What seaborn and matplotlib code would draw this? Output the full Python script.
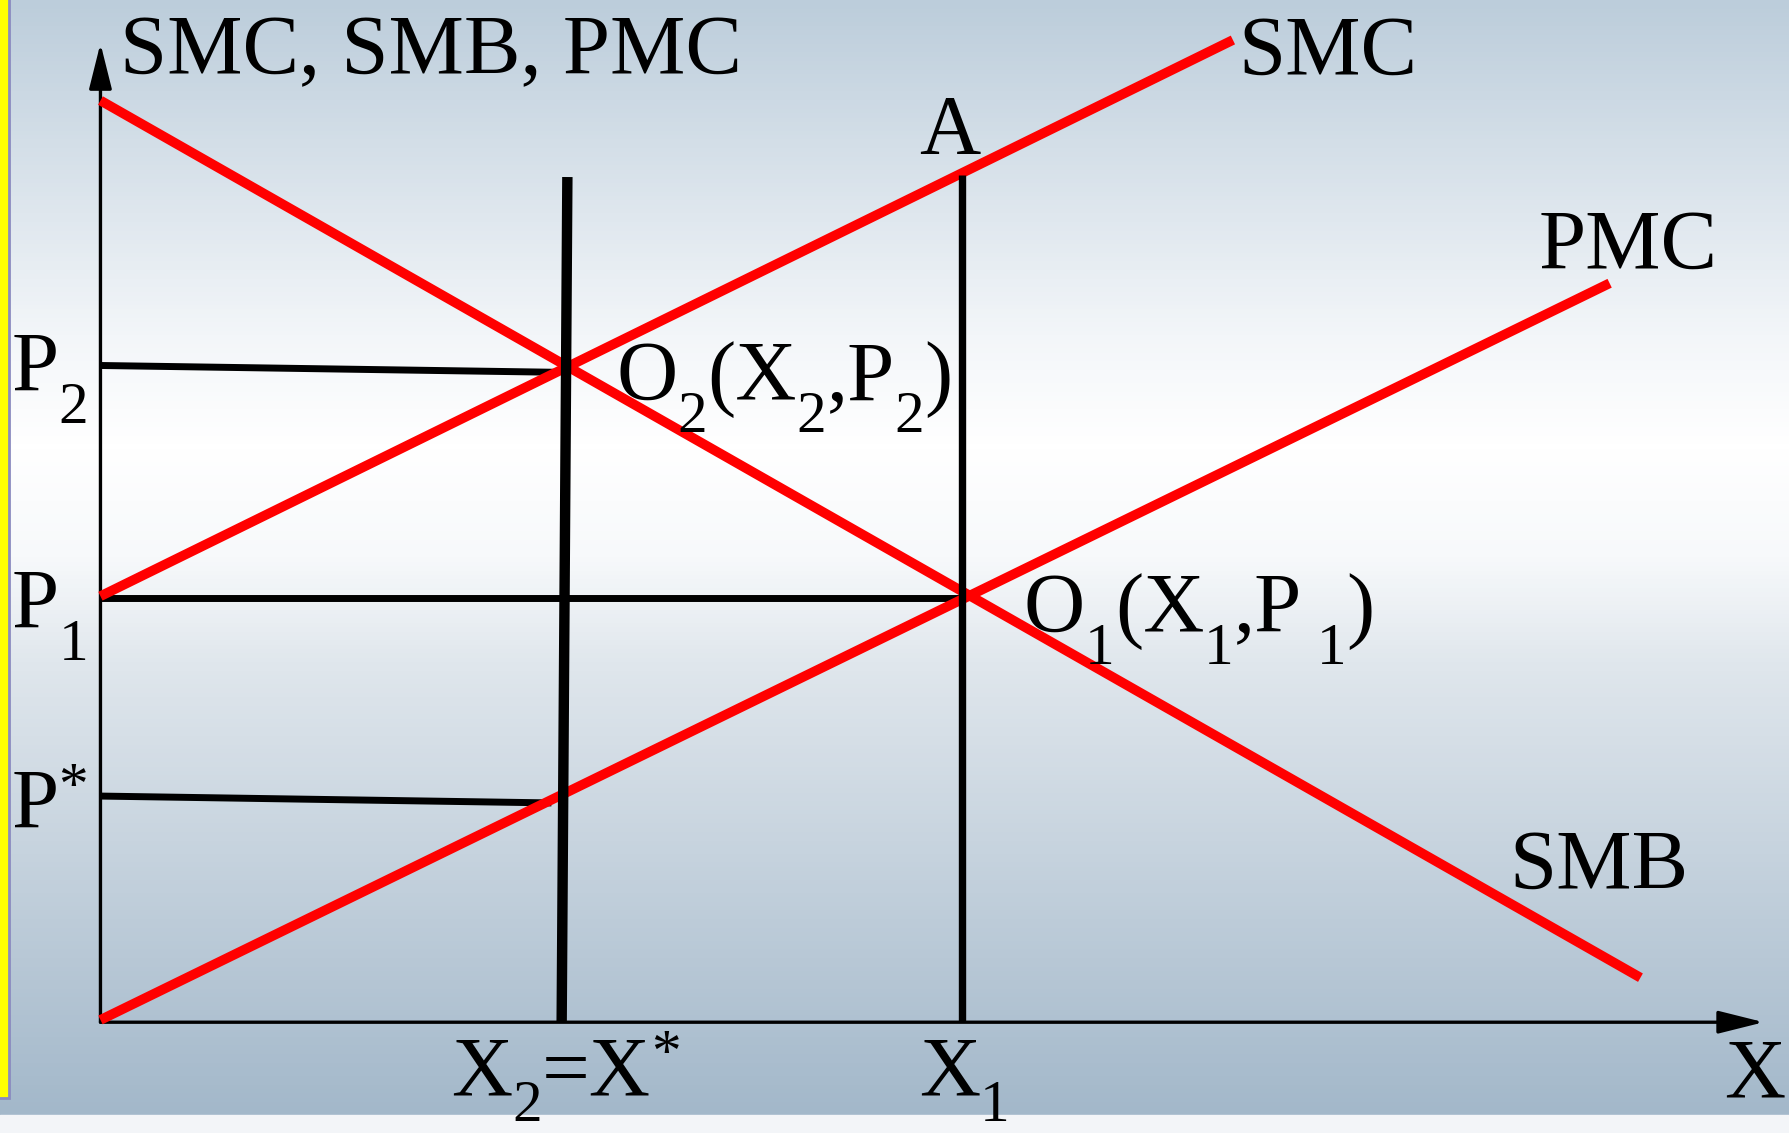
import numpy as np
import pandas as pd
import matplotlib
matplotlib.use("Agg")
import matplotlib.pyplot as plt
from matplotlib.patches import Rectangle
from matplotlib.colors import LinearSegmentedColormap
import seaborn as sns

# curve end points (quantity X, price P)
smc_x = [0.0, 9.92]
smc_y = [3.73, 8.60]
pmc_x = [0.0, 13.22]
pmc_y = [0.02, 6.47]
smb_x = [0.0, 13.49]
smb_y = [8.07, 0.39]

# black guide lines
x2_line_x = [4.09, 4.04]
x2_line_y = [7.40, 0.0]
x1_line_x = [7.55, 7.55]
x1_line_y = [7.42, 0.0]
p2_line_x = [0.0, 4.02]
p2_line_y = [5.75, 5.69]
p1_line_x = [0.0, 7.55]
p1_line_y = [3.71, 3.71]
pstar_line_x = [0.0, 3.95]
pstar_line_y = [1.98, 1.92]

# axis extents
x_axis_end = 14.57
y_axis_end = 8.57

SERIF = ["Liberation Serif", "DejaVu Serif"]
FS = 61

sns.set_style("white")
plt.rcParams["font.family"] = SERIF
plt.rcParams["text.color"] = "black"

fig = plt.figure(figsize=(17.9, 11.33), dpi=100)
ax = fig.add_axes([0, 0, 1, 1])
xmin, xmax, ymin, ymax = -0.88, 14.80, -0.97, 8.95
ax.set_xlim(xmin, xmax)
ax.set_ylim(ymin, ymax)
ax.axis("off")

# background gradient (blue-grey -> white -> blue-grey)
grad = LinearSegmentedColormap.from_list(
    "bg", [(0.0, "#bccddb"), (0.30, "#f3f6f9"), (0.40, "#ffffff"),
           (0.50, "#f7f9fb"), (0.60, "#dfe6ec"), (1.0, "#a3b8ca")])
ax.imshow(np.linspace(0, 1, 256).reshape(-1, 1), cmap=grad, aspect="auto",
          extent=(xmin, xmax, -0.81, ymax), zorder=0)
ax.add_patch(Rectangle((xmin, ymin), xmax - xmin, 0.16, color="#f3f5f8", zorder=0.5))
ax.add_patch(Rectangle((xmin - 0.05, -0.66), 0.13, ymax + 0.8, facecolor="#ffff00",
                       edgecolor="#8a8abf", lw=2, zorder=0.6))

# red curves
curves = pd.concat([
    pd.DataFrame({"x": smc_x, "y": smc_y, "curve": "SMC"}),
    pd.DataFrame({"x": pmc_x, "y": pmc_y, "curve": "PMC"}),
    pd.DataFrame({"x": smb_x, "y": smb_y, "curve": "SMB"}),
])
sns.lineplot(data=curves, x="x", y="y", units="curve", estimator=None, sort=False,
             color="#ff0000", linewidth=7, solid_capstyle="butt", ax=ax, zorder=3,
             legend=False)

# black guide lines: horizontals under the curves, verticals on top
for gx, gy, w, z in [(p2_line_x, p2_line_y, 5, 2), (p1_line_x, p1_line_y, 5, 2),
                     (pstar_line_x, pstar_line_y, 5, 2),
                     (x2_line_x, x2_line_y, 7.5, 4), (x1_line_x, x1_line_y, 5.3, 4)]:
    sns.lineplot(x=gx, y=gy, sort=False, estimator=None, color="black", linewidth=w,
                 solid_capstyle="butt", ax=ax, zorder=z)

# axes with arrows
arrow = dict(arrowstyle="-|>,head_length=1.4,head_width=0.35", lw=2.4, color="black",
             shrinkA=0, shrinkB=0, mutation_scale=20)
ax.annotate("", xy=(0, y_axis_end), xytext=(0, 0), arrowprops=arrow, zorder=2)
ax.annotate("", xy=(x_axis_end, 0), xytext=(0, 0), arrowprops=arrow, zorder=2)

renderer = fig.canvas.get_renderer()


def rich_label(x, y, parts, size=FS, drop=0.38):
    # draw text pieces with sub/superscripts one after another
    dx = 0.0
    for s, kind in parts:
        fs = size if kind == "n" else size * 0.7
        dy = {"n": 0.0, "sub": -drop * size, "sup": 0.30 * size}[kind]
        t = ax.annotate(s, (x, y), xytext=(dx, dy), textcoords="offset points",
                        fontsize=fs, ha="left", va="baseline", family=SERIF,
                        color="black", zorder=5)
        dx += t.get_window_extent(renderer).width * 72 / fig.dpi


rich_label(0.17, 8.30, [("SMC, SMB, PMC", "n")])
rich_label(9.97, 8.30, [("SMC", "n")])
rich_label(7.17, 7.60, [("A", "n")])
rich_label(12.60, 6.60, [("PMC", "n")])
rich_label(12.34, 1.17, [("SMB", "n")])
rich_label(4.52, 5.45, [("O", "n"), ("2", "sub"), ("(X", "n"), ("2", "sub"),
                        (",P", "n"), ("2", "sub"), (")", "n")])
rich_label(8.09, 3.42, [("O", "n"), ("1", "sub"), ("(X", "n"), ("1", "sub"),
                        (",P", "n"), (" 1", "sub"), (")", "n")])
rich_label(-0.78, 5.53, [("P", "n"), ("2", "sub")])
rich_label(-0.78, 3.45, [("P", "n"), ("1", "sub")])
rich_label(-0.78, 1.70, [("P", "n"), ("*", "sup")])
rich_label(3.07, -0.64, [("X", "n"), ("2", "sub"), ("=X", "n"), ("*", "sup")], drop=0.30)
rich_label(7.17, -0.64, [("X", "n"), ("1", "sub")], drop=0.30)
rich_label(14.22, -0.66, [("X", "n")])

fig.savefig("out.png", dpi=100)
